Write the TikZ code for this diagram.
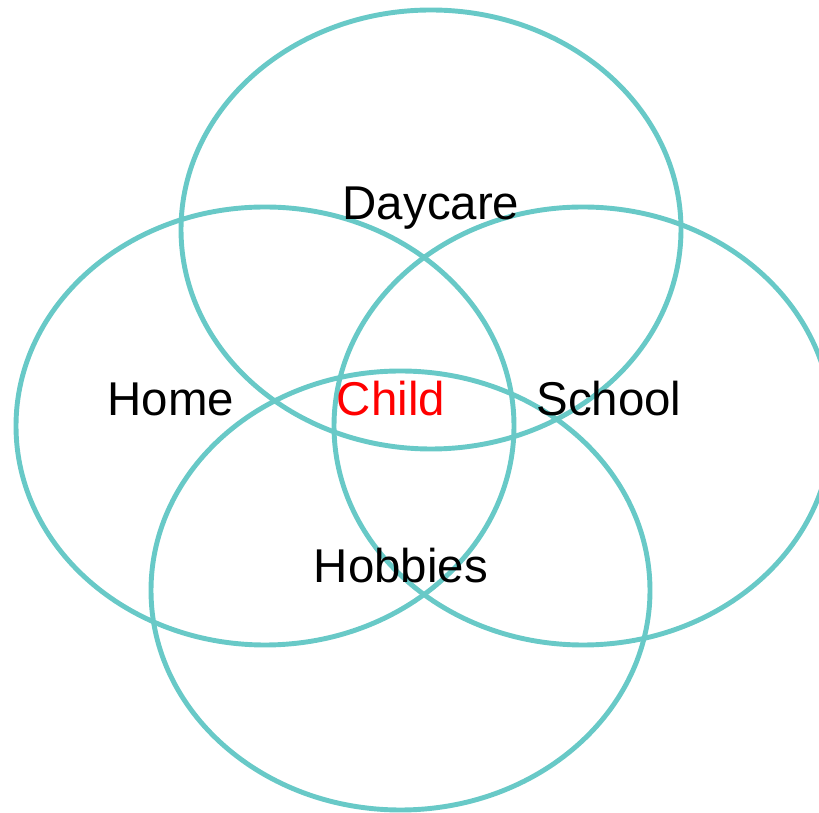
\documentclass[tikz,border=0pt]{standalone}
\usepackage{fontspec}
\setmainfont{Liberation Sans}
\usepackage{tikz}
\definecolor{ringteal}{RGB}{104,201,199}

\begin{document}
\begin{tikzpicture}[x=0.02cm,y=-0.02cm,
    ring/.style={draw=ringteal,line width=2.8pt},
    word/.style={anchor=base,font=\fontsize{27}{32}\selectfont}]

    % Frame of the picture
    \useasboundingbox (0,0) rectangle (819,813);

    % Draw the four sets
    \draw[ring] (431,229.5) ellipse (250 and 219.5);
    \draw[ring] (265,426) ellipse (249 and 219);
    \draw[ring] (583,426) ellipse (249 and 219);
    \draw[ring] (400.5,590.5) ellipse (249.5 and 219.5);

    % Label the sets
    \node[word] (daycare) at (431,220) {Daycare};
    \node[word] (home) at (171,416) {Home};
    \node[word,red] (child) at (391,416) {Child};
    \node[word] (school) at (609,416) {School};
    \node[word] (hobbies) at (401,583) {Hobbies};
\end{tikzpicture}
\end{document}
